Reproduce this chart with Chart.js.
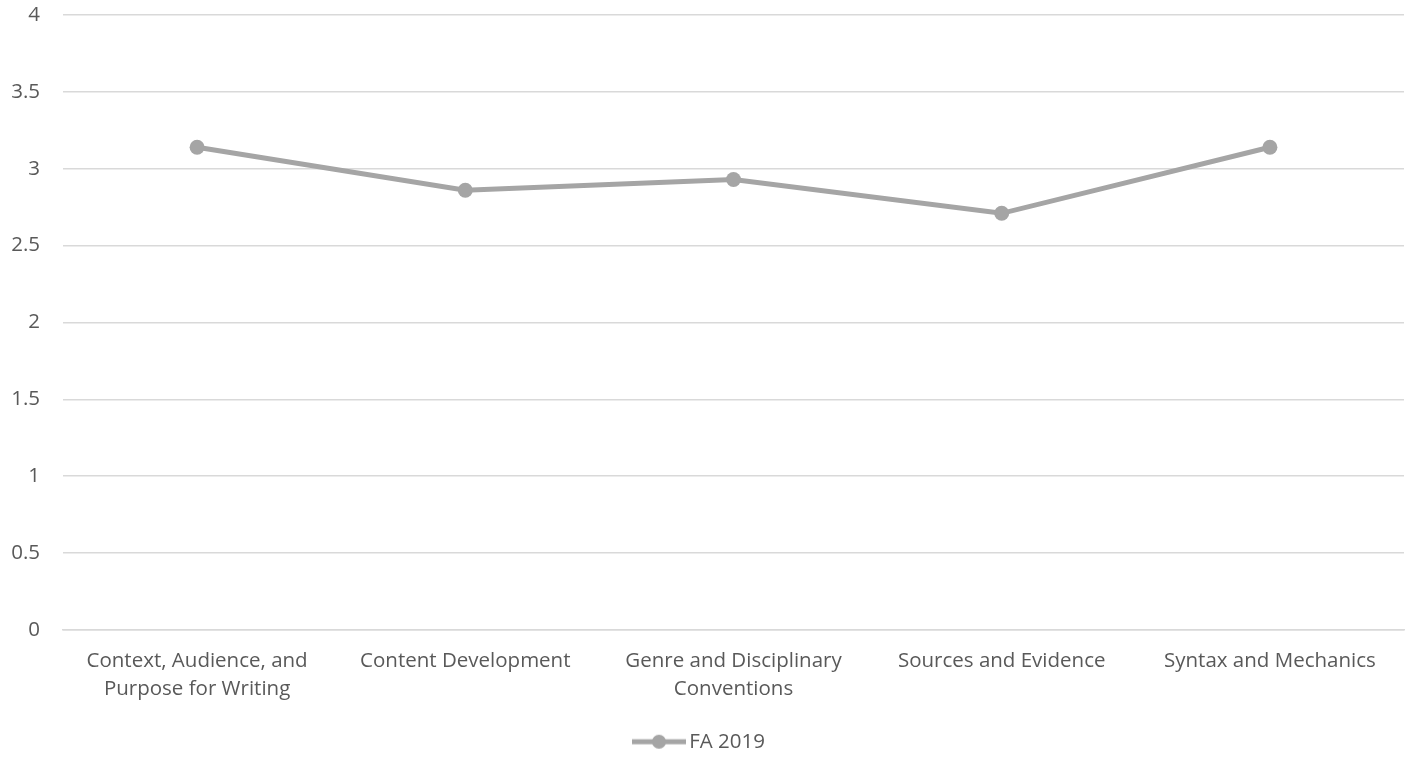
<!DOCTYPE html>
<html>
<head>
<meta charset="utf-8">
<script src="https://cdn.jsdelivr.net/npm/chart.js@4"></script>
<style>
  body { margin: 0; background: #fff; }
  #box { width: 1415px; height: 757px; }
</style>
</head>
<body>
<div id="box"><canvas id="chart" width="1415" height="757"></canvas></div>
<script>
let categories = [
  ["Context, Audience, and", "Purpose for Writing"],
  "Content Development",
  ["Genre and Disciplinary", "Conventions"],
  "Sources and Evidence",
  "Syntax and Mechanics",
];
let seriesName = "FA 2019";
let values = [3.14, 2.86, 2.93, 2.71, 3.14];
let yTicks = [0, 0.5, 1, 1.5, 2, 2.5, 3, 3.5, 4];

let grey = "#A5A5A5";
let textColor = "#595959";
let gridColor = "#D9D9D9";
let font = { family: "'Open Sans', sans-serif", size: 20.5 };

// icone de legende : trait + point
let icon = document.createElement("canvas");
icon.width = 56;
icon.height = 16;
let ictx = icon.getContext("2d");
ictx.strokeStyle = grey;
ictx.lineWidth = 5;
ictx.beginPath();
ictx.moveTo(1, 8);
ictx.lineTo(55, 8);
ictx.stroke();
ictx.fillStyle = grey;
ictx.beginPath();
ictx.arc(28, 8, 7, 0, Math.PI * 2);
ictx.fill();

const ctx = document.getElementById("chart");
new Chart(ctx, {
  type: "line",
  data: {
    labels: categories,
    datasets: [
      {
        label: seriesName,
        data: values,
        borderColor: grey,
        backgroundColor: grey,
        borderWidth: 5,
        pointRadius: 7.5,
        pointHoverRadius: 7.5,
        pointBackgroundColor: grey,
        pointBorderWidth: 0,
        tension: 0,
      },
    ],
  },
  options: {
    responsive: false,
    animation: false,
    layout: { padding: { top: 15, right: 11, bottom: -5, left: 0 } },
    plugins: {
      tooltip: { enabled: false },
      legend: {
        position: "bottom",
        labels: {
          color: textColor,
          font: font,
          usePointStyle: true,
          // plus etroit que l'icone : le texte colle au trait
          pointStyleWidth: 40,
          padding: 8,
          generateLabels: (chart) => {
            let items = Chart.defaults.plugins.legend.labels.generateLabels(chart);
            items.forEach((it) => (it.pointStyle = icon));
            return items;
          },
        },
      },
    },
    scales: {
      x: {
        offset: true,
        afterFit: (scale) => {
          scale.height += 3;
        },
        grid: { display: false, drawTicks: false },
        border: { display: true, color: gridColor, width: 1.5 },
        ticks: {
          color: textColor,
          font: { family: font.family, size: font.size, lineHeight: 1.38 },
          padding: 17,
          maxRotation: 0,
          autoSkip: false,
        },
      },
      y: {
        min: 0,
        max: 4,
        afterFit: (scale) => {
          scale.width = 63;
          // le padding des ticks ne doit pas pousser la zone vers le bas
          scale.paddingTop = 0;
          scale.paddingBottom = 0;
        },
        afterBuildTicks: (scale) => {
          scale.ticks = yTicks.map((v) => ({ value: v }));
        },
        grid: { color: gridColor, lineWidth: 1.5, drawTicks: false },
        border: { display: false },
        ticks: {
          color: textColor,
          font: font,
          padding: 23,
          callback: (v) => String(v),
        },
      },
    },
  },
});
</script>
</body>
</html>
